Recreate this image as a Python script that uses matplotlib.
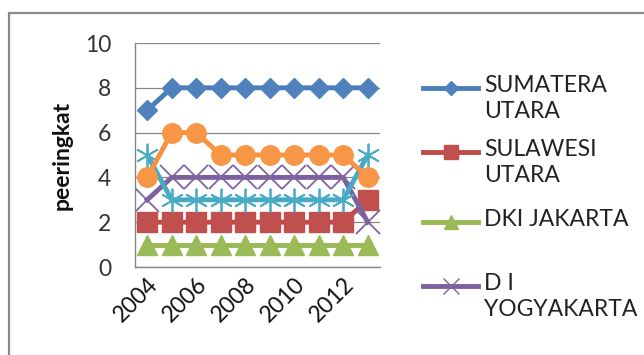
import matplotlib
matplotlib.use("Agg")
import matplotlib.pyplot as plt
from matplotlib.lines import Line2D
from matplotlib.patches import Rectangle

years = [2004, 2005, 2006, 2007, 2008, 2009, 2010, 2011, 2012, 2013]
sumatera_utara = [7, 8, 8, 8, 8, 8, 8, 8, 8, 8]
sulawesi_utara = [2, 2, 2, 2, 2, 2, 2, 2, 2, 3]
dki_jakarta = [1, 1, 1, 1, 1, 1, 1, 1, 1, 1]
di_yogyakarta = [3, 4, 4, 4, 4, 4, 4, 4, 4, 2]
series5 = [5, 3, 3, 3, 3, 3, 3, 3, 3, 5]
series6 = [4, 6, 6, 5, 5, 5, 5, 5, 5, 4]
xtick_labels = ["2004", "2006", "2008", "2010", "2012"]
legend_labels = ["SUMATERA\nUTARA", "SULAWESI\nUTARA", "DKI JAKARTA", "D I\nYOGYAKARTA"]
y_label = "peeringkat"

plt.rcParams['font.family'] = ['Lato', 'DejaVu Sans']
FS = 16.5

fig = plt.figure(figsize=(6.44, 3.55), dpi=100)
W, H = 644, 355
ax = fig.add_axes([135 / W, 1 - 267 / H, 245 / W, 224 / H])

# outer chart border
fig.add_artist(Rectangle((9 / W, -0.1), 1.2, (1 - 13 / H) + 0.1, transform=fig.transFigure,
                         fill=False, edgecolor='#8a8a8a', linewidth=1.6))

ASTER = (6, 2, 0)
styles = [
    (sumatera_utara, '#4A7EBB', '#4F81BD', 'D', 10, None),
    (sulawesi_utara, '#BE4B48', '#C0504D', 's', 14, None),
    (dki_jakarta, '#98B954', '#9BBB59', '^', 14, None),
    (di_yogyakarta, '#7D60A0', '#8064A2', 'x', 17, 1.3),
    (series5, '#46AAC5', '#4BACC6', ASTER, 17, 1.3),
    (series6, '#F69240', '#F79646', 'o', 14, None),
]
xs = list(range(len(years)))
handles = []
for vals, lc, mc, m, ms, mew in styles:
    kw = dict(color=lc, lw=3.5, marker=m, markersize=ms, markeredgecolor=mc,
              markerfacecolor=mc)
    if mew is not None:
        kw['markeredgewidth'] = mew
    h, = ax.plot(xs, vals, **kw)
    handles.append(h)

ax.set_xlim(-0.5, len(years) - 0.5)
ax.set_ylim(0, 10)
ax.set_yticks([0, 2, 4, 6, 8, 10])
ax.set_yticklabels(["0", "2", "4", "6", "8", "10"], fontsize=FS, color='#333333')
ax.set_xticks([0, 2, 4, 6, 8])
ax.set_xticklabels(xtick_labels, rotation=45, ha='right', rotation_mode='anchor',
                   fontsize=FS, color='#111111')
ax.tick_params(axis='both', length=0)
ax.tick_params(axis='y', pad=17)
ax.tick_params(axis='x', pad=5)
ax.grid(axis='y', color='#868686', lw=0.9)
ax.set_axisbelow(True)
for s in ['top', 'right']:
    ax.spines[s].set_visible(False)
for s in ['left', 'bottom']:
    ax.spines[s].set_color('#868686')
    ax.spines[s].set_linewidth(1.0)
ax.set_ylabel(y_label, fontsize=FS, fontweight='bold', color='#111111')
ax.yaxis.set_label_coords((73 - 135) / 245, 0.5)

# legend (only first four series visible, as in reference)
leg_y = [88, 152, 222, 286]
for h, lab, y in zip(handles[:4], legend_labels, leg_y):
    yf = 1 - y / H
    fig.add_artist(Line2D([423 / W, 478 / W], [yf, yf], transform=fig.transFigure,
                          color=h.get_color(), lw=3.5))
    msz = h.get_markersize() * 0.7 if h.get_marker() not in ('x',) else 11
    fig.add_artist(Line2D([450.5 / W], [yf], transform=fig.transFigure,
                          marker=h.get_marker(), markersize=msz,
                          color=h.get_markerfacecolor(), markeredgewidth=1.0,
                          markeredgecolor=h.get_markeredgecolor(), linestyle='none'))
    fig.text(484 / W, yf + 13 / H, lab, fontsize=FS, va='top', ha='left', color='#222222',
             linespacing=1.3, transform=fig.transFigure)

fig.savefig("out.png", dpi=100)
